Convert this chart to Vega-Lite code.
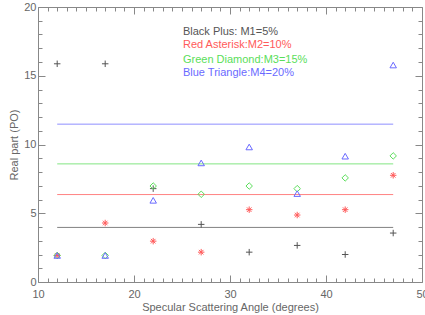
{
  "$schema": "https://vega.github.io/schema/vega-lite/v6.json",
  "width": 384,
  "height": 275,
  "autosize": "none",
  "padding": {"left": 38, "top": 7, "right": 3, "bottom": 33},
  "background": "white",
  "config": {
    "view": {"stroke": null},
    "font": "Liberation Sans",
    "axis": {
      "domainColor": "#888888",
      "tickColor": "#888888",
      "labelColor": "#666666",
      "titleColor": "#666666",
      "labelFont": "Liberation Sans",
      "titleFont": "Liberation Sans",
      "labelFontSize": 11,
      "titleFontSize": 11,
      "titleFontWeight": "normal",
      "grid": false,
      "domainWidth": 1,
      "tickWidth": 1
    }
  },
  "datasets": {
    "points": [
      {"angle": 12, "value": 15.87, "series": "M1"},
      {"angle": 17, "value": 15.87, "series": "M1"},
      {"angle": 22, "value": 6.79, "series": "M1"},
      {"angle": 27, "value": 4.19, "series": "M1"},
      {"angle": 32, "value": 2.17, "series": "M1"},
      {"angle": 37, "value": 2.66, "series": "M1"},
      {"angle": 42, "value": 2.0, "series": "M1"},
      {"angle": 47, "value": 3.56, "series": "M1"},
      {"angle": 12, "value": 1.93, "series": "M2"},
      {"angle": 17, "value": 4.29, "series": "M2"},
      {"angle": 22, "value": 2.97, "series": "M2"},
      {"angle": 27, "value": 2.17, "series": "M2"},
      {"angle": 32, "value": 5.26, "series": "M2"},
      {"angle": 37, "value": 4.87, "series": "M2"},
      {"angle": 42, "value": 5.26, "series": "M2"},
      {"angle": 47, "value": 7.76, "series": "M2"},
      {"angle": 12, "value": 1.93, "series": "M3"},
      {"angle": 17, "value": 1.93, "series": "M3"},
      {"angle": 22, "value": 6.98, "series": "M3"},
      {"angle": 27, "value": 6.38, "series": "M3"},
      {"angle": 32, "value": 6.98, "series": "M3"},
      {"angle": 37, "value": 6.79, "series": "M3"},
      {"angle": 42, "value": 7.57, "series": "M3"},
      {"angle": 47, "value": 9.17, "series": "M3"},
      {"angle": 12, "value": 1.93, "series": "M4"},
      {"angle": 17, "value": 1.93, "series": "M4"},
      {"angle": 22, "value": 5.94, "series": "M4"},
      {"angle": 27, "value": 8.66, "series": "M4"},
      {"angle": 32, "value": 9.82, "series": "M4"},
      {"angle": 37, "value": 6.43, "series": "M4"},
      {"angle": 42, "value": 9.15, "series": "M4"},
      {"angle": 47, "value": 15.78, "series": "M4"}
    ],
    "means": [
      {"angle": 12, "value": 3.97, "series": "M1"},
      {"angle": 47, "value": 3.97, "series": "M1"},
      {"angle": 12, "value": 6.36, "series": "M2"},
      {"angle": 47, "value": 6.36, "series": "M2"},
      {"angle": 12, "value": 8.59, "series": "M3"},
      {"angle": 47, "value": 8.59, "series": "M3"},
      {"angle": 12, "value": 11.48, "series": "M4"},
      {"angle": 47, "value": 11.48, "series": "M4"}
    ],
    "labels": [
      {"angle": 25.1, "value": 18.19, "series": "M1", "text": "Black Plus: M1=5%"},
      {"angle": 25.1, "value": 17.24, "series": "M2", "text": "Red Asterisk:M2=10%"},
      {"angle": 25.1, "value": 16.18, "series": "M3", "text": "Green Diamond:M3=15%"},
      {"angle": 25.1, "value": 15.2, "series": "M4", "text": "Blue Triangle:M4=20%"}
    ]
  },
  "resolve": {"axis": {"x": "independent", "y": "independent"}},
  "layer": [
    {
      "data": {"name": "means"},
      "mark": {"type": "line", "strokeWidth": 1, "opacity": 0.75},
      "encoding": {
        "x": {
          "field": "angle", "type": "quantitative",
          "scale": {"domain": [10, 50], "nice": false, "zero": false},
          "axis": {
            "orient": "top", "labels": false, "title": null,
            "values": [10,11,12,13,14,15,16,17,18,19,20,21,22,23,24,25,26,27,28,29,30,31,32,33,34,35,36,37,38,39,40,41,42,43,44,45,46,47,48,49,50],
            "tickSize": {"condition": {"test": "datum.value % 10 === 0", "value": -7}, "value": -4}
          }
        },
        "y": {
          "field": "value", "type": "quantitative",
          "scale": {"domain": [0, 20], "nice": false, "zero": false},
          "axis": {
            "orient": "right", "labels": false, "title": null,
            "values": [0,1,2,3,4,5,6,7,8,9,10,11,12,13,14,15,16,17,18,19,20],
            "tickSize": {"condition": {"test": "datum.value % 5 === 0", "value": -7}, "value": -4}
          }
        },
        "color": {
          "field": "series", "type": "nominal", "legend": null,
          "scale": {"domain": ["M1", "M2", "M3", "M4"], "range": ["#555555", "#ff5a5a", "#5ade5a", "#6a6aff"]}
        },
        "detail": {"field": "series"}
      }
    },
    {
      "data": {"name": "points"},
      "mark": {"type": "point", "filled": false, "strokeWidth": 1, "opacity": 1},
      "encoding": {
        "x": {
          "field": "angle", "type": "quantitative",
          "scale": {"domain": [10, 50], "nice": false, "zero": false},
          "axis": {
            "orient": "bottom",
            "title": "Specular Scattering Angle (degrees)",
            "titlePadding": 2,
            "labelPadding": 13,
            "values": [10,11,12,13,14,15,16,17,18,19,20,21,22,23,24,25,26,27,28,29,30,31,32,33,34,35,36,37,38,39,40,41,42,43,44,45,46,47,48,49,50],
            "labelExpr": "datum.value % 10 === 0 ? datum.label : ''",
            "labelFlush": false,
            "tickSize": {"condition": {"test": "datum.value % 10 === 0", "value": -7}, "value": -4}
          }
        },
        "y": {
          "field": "value", "type": "quantitative",
          "scale": {"domain": [0, 20], "nice": false, "zero": false},
          "axis": {
            "orient": "left",
            "title": "Real part (PO)",
            "titlePadding": 4,
            "labelPadding": 9,
            "values": [0,1,2,3,4,5,6,7,8,9,10,11,12,13,14,15,16,17,18,19,20],
            "labelExpr": "datum.value % 5 === 0 ? datum.label : ''",
            "labelFlush": false,
            "tickSize": {"condition": {"test": "datum.value % 5 === 0", "value": -7}, "value": -4}
          }
        },
        "color": {
          "field": "series", "type": "nominal", "legend": null,
          "scale": {"domain": ["M1", "M2", "M3", "M4"], "range": ["#555555", "#ff5a5a", "#5ade5a", "#6a6aff"]}
        },
        "shape": {
          "field": "series", "type": "nominal", "legend": null,
          "scale": {"domain": ["M1", "M2", "M3", "M4"], "range": ["M-1,0L1,0M0,-1L0,1", "M-1,0L1,0M0,-1L0,1M-0.7,-0.7L0.7,0.7M-0.7,0.7L0.7,-0.7", "diamond", "triangle-up"]}
        },
        "size": {"value": 42}
      }
    },
    {
      "data": {"name": "labels"},
      "mark": {"type": "text", "align": "left", "baseline": "middle", "font": "Liberation Sans", "fontSize": 11},
      "encoding": {
        "x": {"field": "angle", "type": "quantitative", "scale": {"domain": [10, 50], "nice": false, "zero": false}, "axis": null},
        "y": {"field": "value", "type": "quantitative", "scale": {"domain": [0, 20], "nice": false, "zero": false}, "axis": null},
        "text": {"field": "text"},
        "color": {
          "field": "series", "type": "nominal", "legend": null,
          "scale": {"domain": ["M1", "M2", "M3", "M4"], "range": ["#555555", "#ff5a5a", "#5ade5a", "#6a6aff"]}
        }
      }
    }
  ]
}
